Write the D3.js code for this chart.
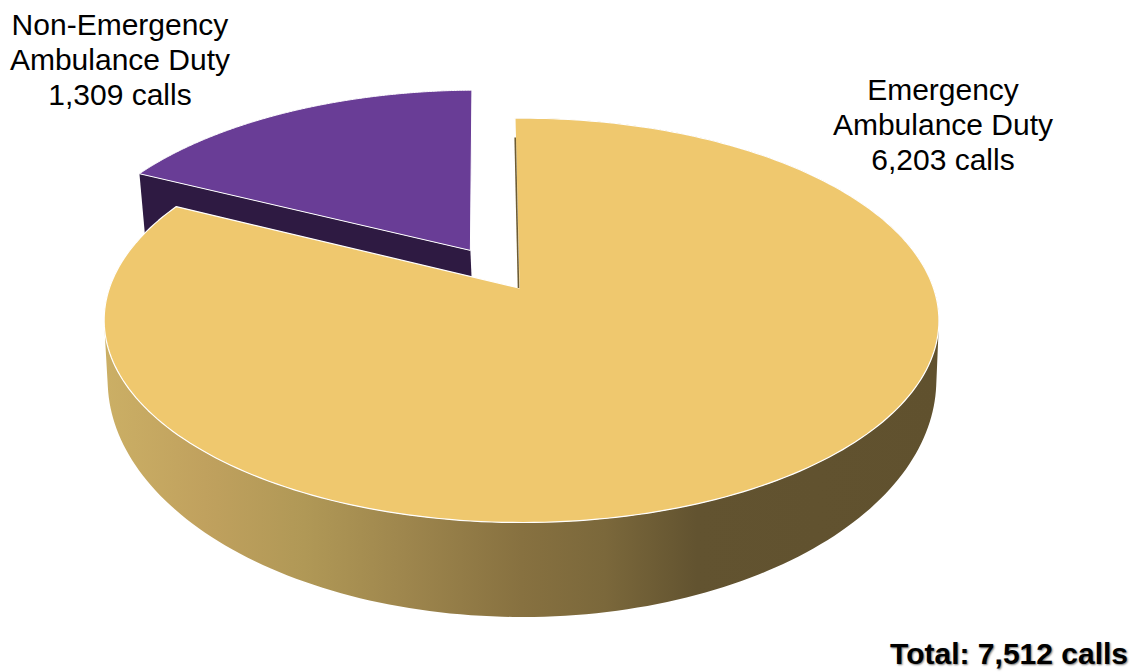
<!DOCTYPE html>
<html>
<head>
<meta charset="utf-8">
<script src="https://cdn.jsdelivr.net/npm/d3@7"></script>
<style>
  html, body { margin: 0; background: #fff; }
  text { font-family: "Liberation Sans", Arial, sans-serif; fill: #000; }
</style>
</head>
<body>
<div id="chart"></div>
<script>
const categories = ["Emergency Ambulance Duty", "Non-Emergency Ambulance Duty"];
const labelLines = [["Emergency", "Ambulance Duty"], ["Non-Emergency", "Ambulance Duty"]];
const calls = [6203, 1309];
const colors = ["#EFC86E", "#693D96"];

const width = 1139, height = 672;
const fmt = d3.format(",");

const svg = d3.select("#chart").append("svg")
  .attr("width", width)
  .attr("height", height)
  .style("display", "block");

// pie is slightly turned, the first slice starts just left of 12 o'clock
const turn = -1 * Math.PI / 180;
const arcs = d3.pie().sort(null).startAngle(turn).endAngle(turn + 2 * Math.PI)(calls);

// perspective planes for the top face and the floor of the pie
const topPlane = { cx: 519, cy: 288, a: 412, b: 197, p: 0.16 };
const floorPlane = { cx: 522, cy: 342, a: 409, b: 231, p: 0.16 };

function project(plane, u, v, dy = 0) {
  const d = 1 + plane.p * v;
  return [plane.cx + plane.a * u / d, plane.cy - plane.b * v / d + dy];
}

function rimPoints(plane, slice, offset, dy = 0) {
  const n = 240;
  return d3.range(n + 1).map(i => {
    const ang = slice.startAngle + (slice.endAngle - slice.startAngle) * i / n;
    return project(plane, offset[0] + Math.sin(ang), offset[1] + Math.cos(ang), dy);
  });
}

const line = d3.line();

const defs = svg.append("defs");
const grad = defs.append("linearGradient")
  .attr("id", "wall")
  .attr("gradientUnits", "userSpaceOnUse")
  .attr("x1", 105).attr("x2", 938).attr("y1", 0).attr("y2", 0);
[[0, "#cbaf65"], [0.12, "#c0a15e"], [0.24, "#b09856"], [0.36, "#9e864d"], [0.5, "#877140"], [0.6, "#7b683b"], [0.71, "#625330"], [1, "#60512e"]]
  .forEach(s => grad.append("stop").attr("offset", s[0]).attr("stop-color", s[1]));

// exploded purple slice
const mid = (arcs[1].startAngle + arcs[1].endAngle) / 2;
const explode = 0.233;
const purpleOff = [explode * Math.sin(mid) + 0.003, explode * Math.cos(mid)];
const purpleRimOff = [purpleOff[0] + 0.003, purpleOff[1]];

// purple cut face, its lower part goes behind the yellow slice
const purpleDrop = 30;
const purpleCorner = [purpleRimOff[0] + Math.sin(arcs[1].startAngle), purpleRimOff[1] + Math.cos(arcs[1].startAngle)];
svg.append("path")
  .attr("d", line([
    project(topPlane, purpleCorner[0], purpleCorner[1]),
    project(topPlane, purpleOff[0], purpleOff[1]),
    project(floorPlane, purpleOff[0], purpleOff[1], purpleDrop),
    project(floorPlane, purpleCorner[0], purpleCorner[1], purpleDrop)
  ]) + "Z")
  .attr("fill", "#2e1a42");

svg.append("path")
  .attr("d", line([project(topPlane, purpleOff[0], purpleOff[1])].concat(rimPoints(topPlane, arcs[1], purpleRimOff))) + "Z")
  .attr("fill", colors[1])
  .attr("stroke", "#fff")
  .attr("stroke-width", 1);

// yellow outer wall, built from small quads with the same winding
const yellowOff = [0.006, 0];
const topRim = rimPoints(topPlane, arcs[0], yellowOff);
const floorRim = rimPoints(floorPlane, arcs[0], [0, 0]);
let wallPath = "";
d3.range(topRim.length - 1).forEach(i => {
  const quad = [topRim[i], topRim[i + 1], floorRim[i + 1], floorRim[i]];
  if (d3.polygonArea(quad) < 0) quad.reverse();
  wallPath += line(quad) + "Z";
});
svg.append("path")
  .attr("d", wallPath)
  .attr("fill", "url(#wall)")
  .attr("fill-rule", "nonzero");

svg.append("path")
  .attr("d", line([project(topPlane, 0, 0)].concat(topRim)) + "Z")
  .attr("fill", colors[0])
  .attr("stroke", "#fff")
  .attr("stroke-width", 1.2)
  .attr("stroke-linejoin", "round");

// thin dark sliver of the cut face next to the gap
const startU = Math.sin(arcs[0].startAngle), startV = Math.cos(arcs[0].startAngle);
const sliverA = project(topPlane, startU * 0.87 + yellowOff[0], startV * 0.87);
const sliverB = project(topPlane, 0, 0);
svg.append("line")
  .attr("x1", sliverA[0] - 0.5).attr("y1", sliverA[1])
  .attr("x2", sliverB[0] - 0.5).attr("y2", sliverB[1])
  .attr("stroke", "#6d5c33")
  .attr("stroke-width", 1.6);

// labels
const labelPos = [[943, 100], [120, 35]];
const lineGap = 35;
categories.forEach((c, i) => {
  const t = svg.append("text")
    .attr("text-anchor", "middle")
    .attr("font-size", 30);
  labelLines[i].concat(fmt(calls[i]) + " calls").forEach((s, j) => {
    t.append("tspan")
      .attr("x", labelPos[i][0])
      .attr("y", labelPos[i][1] + j * lineGap)
      .text(s);
  });
});

svg.append("text")
  .attr("x", 1128)
  .attr("y", 664)
  .attr("text-anchor", "end")
  .attr("font-size", 30)
  .attr("font-weight", "bold")
  .style("text-shadow", "1px 1px 2px #777")
  .text("Total: " + fmt(d3.sum(calls)) + " calls");
</script>
</body>
</html>
